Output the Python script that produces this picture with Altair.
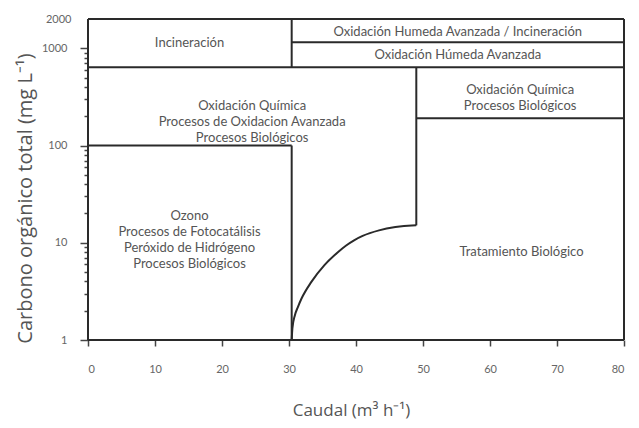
import altair as alt
import pandas as pd

# Region boundary segments (x, y, x2, y2) in data units
seg_x1 = [0, 0, 0, 80, 30.4, 30.4, 0, 49, 49, 0, 30.4]
seg_x2 = [80, 80, 0, 80, 30.4, 80, 80, 49, 80, 30.4, 30.4]
seg_y1 = [1, 2000, 1, 1, 637, 1150, 637, 15.1, 191, 100, 1]
seg_y2 = [1, 2000, 2000, 2000, 2000, 1150, 637, 637, 191, 100, 100]

# Boundary curve
curve_x = [30.4, 30.51, 30.88, 31.31, 31.87, 33.34, 35.29, 37.25, 38.53, 39.71, 40.99, 43.43, 45.88, 48.34, 49.0]
curve_y = [1.0, 1.32, 1.80, 2.17, 2.67, 3.96, 5.89, 7.95, 9.38, 10.6, 11.75, 13.4, 14.5, 15.07, 15.1]

# Region labels
lab_x = [15.15, 55.2, 55.2, 24.5, 64.5, 15.15, 64.7]
lab_y = [1120, 1486, 861, 253, 369, 18.8, 8.07]
lab_text = [
    ["Incineración"],
    ["Oxidación Humeda Avanzada / Incineración"],
    ["Oxidación Húmeda Avanzada"],
    ["Oxidación Química", "Procesos de Oxidacion Avanzada", "Procesos Biológicos"],
    ["Oxidación Química", "Procesos Biológicos"],
    ["Ozono", "Procesos de Fotocatálisis", "Peróxido de Hidrógeno", "Procesos Biológicos"],
    ["Tratamiento Biológico"],
]

x_ticks = list(range(0, 81, 5))
y_ticks = [1, 2, 3, 4, 5, 6, 7, 8, 9, 10, 20, 30, 40, 50, 60, 70, 80, 90,
           100, 200, 300, 400, 500, 600, 700, 800, 900, 1000, 2000]

FONT = "Lato"
TFONT = "Open Sans"
LINE = "#2a2a2a"
TEXT = "#555555"

seg_df = pd.DataFrame({"x": seg_x1, "x2": seg_x2, "y": seg_y1, "y2": seg_y2})
curve_df = pd.DataFrame({"x": curve_x, "y": curve_y, "o": list(range(len(curve_x)))})
lab_df = pd.DataFrame({"x": lab_x, "y": lab_y, "t": lab_text})

xscale = alt.Scale(domain=[0, 80], nice=False, zero=False)
yscale = alt.Scale(type="log", domain=[1, 2000], nice=False)

xaxis = alt.Axis(
    values=x_ticks,
    labelExpr="datum.value % 10 == 0 ? datum.label : ''",
    title="Caudal (m³ h⁻¹)",
    titleFont=TFONT, titleFontSize=17, titleFontWeight="normal", titleColor=TEXT,
    titleX=263, titleY=62, titleAnchor="middle",
    labelFont=FONT, labelFontSize=11, labelColor="#666666", labelPadding=17,
    tickSize=6, tickColor="#444444", tickWidth=1.5,
    domain=False, grid=False,
)
yaxis = alt.Axis(
    values=y_ticks,
    labelExpr="indexof([1,10,100,1000,2000], datum.value) >= 0 ? datum.label : ''",
    format="d",
    title="Carbono orgánico total (mg L⁻¹)",
    titleFont=TFONT, titleFontSize=20, titleFontWeight="normal", titleColor=TEXT,
    titleX=-53, titleY=179, titleAngle=-90, titleBaseline="bottom", titleAnchor="middle",
    labelFont=FONT, labelFontSize=11, labelColor="#666666", labelPadding=13,
    tickSize={"condition": {"test": "indexof([1,10,100,1000], datum.value) >= 0", "value": 8}, "value": 4},
    tickOpacity={"condition": {"test": "datum.value == 2000", "value": 0}, "value": 1},
    tickColor="#444444", tickWidth=1.5,
    domain=False, grid=False,
)

segs = alt.Chart(seg_df).mark_rule(color=LINE, strokeWidth=2).encode(
    x=alt.X("x:Q", scale=xscale, axis=xaxis),
    x2="x2:Q",
    y=alt.Y("y:Q", scale=yscale, axis=yaxis),
    y2="y2:Q",
)

curve = alt.Chart(curve_df).mark_line(color=LINE, strokeWidth=2, interpolate="monotone").encode(
    x=alt.X("x:Q", scale=xscale),
    y=alt.Y("y:Q", scale=yscale),
    order="o:Q",
)

labels = alt.Chart(lab_df).mark_text(
    font=FONT, fontSize=13, color=TEXT, align="center", baseline="middle", lineHeight=16
).encode(
    x=alt.X("x:Q", scale=xscale),
    y=alt.Y("y:Q", scale=yscale),
    text="t",
)

chart = alt.layer(segs, curve, labels).properties(
    width=536, height=321,
    autosize=alt.AutoSizeParams(type="none"),
    padding={"left": 80, "top": 11, "right": 7, "bottom": 80},
    background="white",
).configure_view(stroke=None)

chart.save("out.html", embed_options={"renderer": "svg", "actions": False})
